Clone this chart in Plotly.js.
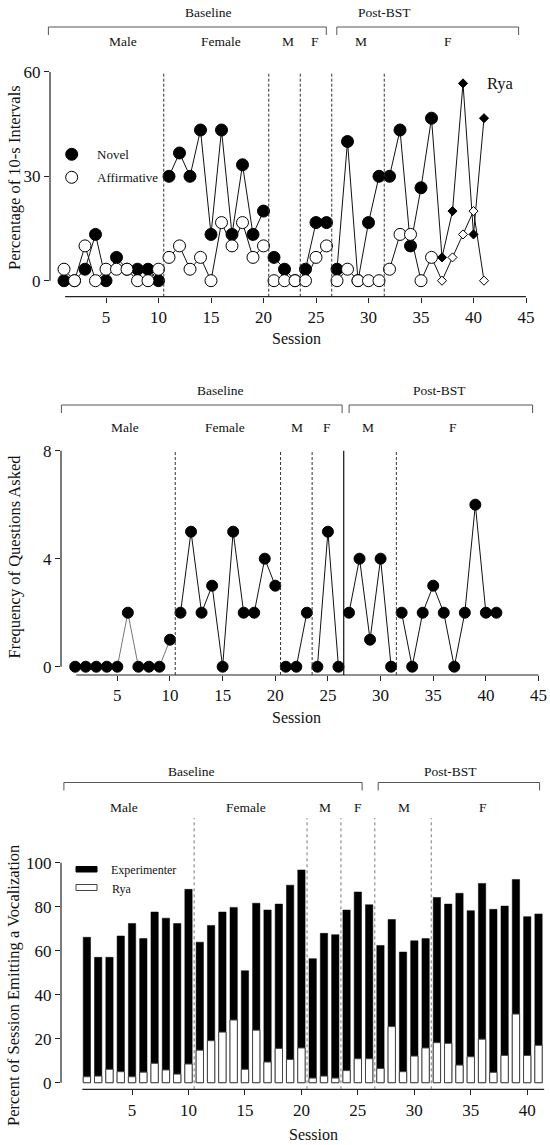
<!DOCTYPE html>
<html>
<head>
<meta charset="utf-8">
<script src="https://cdn.plot.ly/plotly-3.0.1.min.js"></script>
<style>html,body{margin:0;padding:0;background:#fff;}#chart{width:550px;height:1145px;}</style>
</head>
<body>
<div id="chart"></div>
<script>
// ---------- DATA ----------
const sessions = [1,2,3,4,5,6,7,8,9,10,11,12,13,14,15,16,17,18,19,20,21,22,23,24,25,26,27,28,29,30,31,32,33,34,35,36,37,38,39,40,41];
const phaseBoundaries = [10.5, 20.5, 23.5, 26.5, 31.5];

// Panel 1: percentage of 10-s intervals
const novel = [0,0,3.3,13.3,0,6.7,3.3,3.3,3.3,0, 30,36.7,30,43.3,13.3,43.3,13.3,33.3,13.3,20, 6.7,3.3,0, 3.3,16.7,16.7, 3.3,40,0,16.7,30, 30,43.3,10,26.7,46.7,6.7,20,56.7,13.3,46.7];
const affirmative = [3.3,0,10,0,3.3,3.3,3.3,0,0,3.3, 6.7,10,3.3,6.7,0,16.7,10,16.7,6.7,10, 0,0,0, 0,6.7,10, 0,3.3,0,0,0, 3.3,13.3,13.3,0,6.7,0,6.7,13.3,20,0];
const diamondFrom = 37;

// Panel 2: frequency of questions asked
const questions = [0,0,0,0,0,2,0,0,0,1, 2,5,2,3,0,5,2,2,4,3, 0,0,2, 0,5,0, 2,4,1,4,0, 2,0,2,3,2,0,2,6,2,2];

// Panel 3: percent of session emitting a vocalization
const experimenter = [66.1,57,57,66.7,72.4,65.5,77.6,74.8,72.4,87.9, 63.9,71.5,77.6,79.7,50.9,81.6,78.5,81.2,89.8,96.7, 56.4,67.9,67.3, 78.5,86.7,80.9, 62.4,74.2,59.4,64.5,65.5, 84.2,81.2,86.1,78.2,90.6,78.8,80.3,92.4,75.5,76.7];
const rya = [2.7,3.0,6.1,5.0,2.7,4.8,8.8,5.8,3.9,8.5, 14.8,19.1,23.0,28.5,6.1,23.9,9.4,15.6,10.6,15.8, 2.1,3.0,2.1, 5.5,10.9,10.9, 6.5,25.5,5.0,12.1,15.8, 18.2,17.9,8.0,11.8,19.8,4.7,12.4,31.2,12.4,17.0];

// Tick labels
const xTicks1 = [5,10,15,20,25,30,35,40,45];
const yTicks1 = [0,30,60];
const xTicks2 = [5,10,15,20,25,30,35,40,45];
const yTicks2 = [0,4,8];
const xTicks3 = [5,10,15,20,25,30,35,40];
const yTicks3 = [0,20,40,60,80,100];

// Text labels
const phaseLabels = ['Baseline','Post-BST'];
const condLabels = ['Male','Female','M','F','M','F'];
const yTitles = ['Percentage of 10-s Intervals','Frequency of Questions Asked','Percent of Session Emitting a Vocalization'];
const xTitle = 'Session';
const seriesNames1 = ['Novel','Affirmative'];
const seriesNames3 = ['Experimenter','Rya'];
const participant = 'Rya';

// ---------- LAYOUT HELPERS ----------
const W = 550, H = 1145;
const PX = x => x / W;
const PY = y => 1 - y / H;
const SERIF = 'Liberation Serif';

function withGaps(xs, ys) {
  const ox = [], oy = [];
  for (let i = 0; i < xs.length; i++) {
    if (i > 0 && phaseBoundaries.some(b => xs[i-1] < b && xs[i] > b)) { ox.push(null); oy.push(null); }
    ox.push(xs[i]); oy.push(ys[i]);
  }
  return [ox, oy];
}

const traces = [];
// ----- Panel 1 -----
const symbols1 = sessions.map(s => s >= diamondFrom ? 'diamond' : 'circle');
const sizes1 = sessions.map(s => s >= diamondFrom ? 7 : 12);
let g = withGaps(sessions, novel);
traces.push({x: g[0], y: g[1], xaxis:'x', yaxis:'y', mode:'lines', line:{color:'#111', width:1}, connectgaps:false, hoverinfo:'skip'});
traces.push({x: sessions, y: novel, xaxis:'x', yaxis:'y', mode:'markers', name: seriesNames1[0],
  marker:{symbol: symbols1, size: sizes1, opacity:1, color:'#000', line:{color:'#000', width:1}}});
g = withGaps(sessions, affirmative);
traces.push({x: g[0], y: g[1], xaxis:'x', yaxis:'y', mode:'lines', line:{color:'#111', width:1}, connectgaps:false, hoverinfo:'skip'});
traces.push({x: sessions, y: affirmative, xaxis:'x', yaxis:'y', mode:'markers', name: seriesNames1[1],
  marker:{symbol: symbols1, size: sizes1, opacity:1, color:'#fff', line:{color:'#000', width:1}}});

// ----- Panel 2 -----
const firstSegX = sessions.filter(s => s < phaseBoundaries[0]);
const firstSegY = questions.slice(0, firstSegX.length);
const restX = sessions.slice(firstSegX.length);
const restY = questions.slice(firstSegX.length);
traces.push({x: firstSegX, y: firstSegY, xaxis:'x2', yaxis:'y2', mode:'lines', line:{color:'#777', width:1}, hoverinfo:'skip'});
g = withGaps(restX, restY);
traces.push({x: g[0], y: g[1], xaxis:'x2', yaxis:'y2', mode:'lines', line:{color:'#111', width:1}, connectgaps:false, hoverinfo:'skip'});
traces.push({x: sessions, y: questions, xaxis:'x2', yaxis:'y2', mode:'markers',
  marker:{symbol:'circle', size:11, opacity:1, color:'#000', line:{color:'#000', width:1}}});

// ----- Panel 3 -----
traces.push({type:'bar', x: sessions, y: experimenter, xaxis:'x3', yaxis:'y3', name: seriesNames3[0], width:0.65,
  marker:{color:'#000', line:{color:'#000', width:0.5}}});
traces.push({type:'bar', x: sessions, y: rya, xaxis:'x3', yaxis:'y3', name: seriesNames3[1], width:0.65,
  marker:{color:'#fff', line:{color:'#444', width:1}}});

// ----- Axes -----
const tickFont = {family: SERIF, size: 17, color:'#111'};
function xAxis(dom, range, ticks, anchor) {
  return {domain:[PX(dom[0]), PX(dom[1])], range: range, anchor: anchor, showline:false, zeroline:false, showgrid:false,
    ticks:'outside', ticklen:5, tickwidth:1, tickcolor:'#222', tickvals: ticks, ticktext: ticks.map(String), tickfont: tickFont, fixedrange:true};
}
function yAxis(dom, range, ticks, anchor) {
  return {domain:[PY(dom[0]), PY(dom[1])], range: range, anchor: anchor, showline:false, zeroline:false, showgrid:false,
    ticks:'outside', ticklen:5, tickwidth:1, tickcolor:'#222', tickvals: ticks, ticktext: ticks.map(String), tickfont: tickFont, fixedrange:true};
}

const shapes = [];
const annotations = [];
const axisLine = {color:'#222', width:1.2};

function panelFrame(xa, ya, xLine, yLine, yLow, yTop, dash, solidAt, lineColor, lw) {
  shapes.push({type:'line', xref: xa, yref: ya + ' domain', x0: xLine[0], x1: xLine[1], y0: 0, y1: 0, line: axisLine});
  shapes.push({type:'line', xref: xa + ' domain', yref: ya, x0: 0, x1: 0, y0: yLine[0], y1: yLine[1], line: axisLine});
  phaseBoundaries.forEach(b => {
    const solid = solidAt !== null && b === solidAt;
    shapes.push({type:'line', xref: xa, yref: ya, x0: b, x1: b, y0: yLow, y1: yTop,
      line:{color: solid ? '#111' : lineColor, width: solid ? 1.2 : lw, dash: solid ? 'solid' : dash}});
  });
}
panelFrame('x', 'y', [1.1, 45], [0, 60], -4.6, 60, '3px,2px', null, '#333', 1);
panelFrame('x2', 'y2', [1.1, 45], [0, 8], -0.307, 8, '3px,2px', 26.5, '#333', 1);
panelFrame('x3', 'y3', [0.6, 41.5], [0, 100], -3.0, 120.3, 'dot', null, '#777', 1);

// Brackets & labels (pixel positions)
const bracketColor = '#555';
function bracket(x0, x1, y, depth) {
  shapes.push({type:'path', xref:'paper', yref:'paper',
    path:`M ${PX(x0)} ${PY(y+depth)} L ${PX(x0)} ${PY(y)} L ${PX(x1)} ${PY(y)} L ${PX(x1)} ${PY(y+depth)}`,
    line:{color: bracketColor, width:1}});
}
function label(text, x, y, size, anchor) {
  annotations.push({text: text, xref:'paper', yref:'paper', x: PX(x), y: PY(y), showarrow:false,
    xanchor: anchor || 'center', yanchor:'middle', font:{family: SERIF, size: size, color:'#111'}});
}
const headers = [
  {by:12, bk:27, sub:42, b:[48.4, 326.3], p:[336.8, 518.6], bl:208.8, pl:384.2, subs:[122.8,221,287.7,315,361.4,448.4]},
  {by:391, bk:405, sub:427.5, b:[61.4, 342.1], p:[349.1, 532.6], bl:220.4, pl:439.6, subs:[125.3,224.6,296.5,327,368.4,453.3]},
  {by:771, bk:782.5, sub:807, b:[63.9, 362.1], p:[378.2, 539.6], bl:191.2, pl:450.2, subs:[123.5,245.6,324.6,357.9,404.2,482.5]}
];
headers.forEach(h => {
  bracket(h.b[0], h.b[1], h.bk, 8);
  bracket(h.p[0], h.p[1], h.bk, 8);
  label(phaseLabels[0], h.bl, h.by, 13.5);
  label(phaseLabels[1], h.pl, h.by, 13.5);
  h.subs.forEach((x, i) => label(condLabels[i], x, h.sub, 13.5));
});

// Axis titles
const yTitlePos = [[14, 178], [13.5, 557], [13, 986]];
yTitles.forEach((t, i) => {
  annotations.push({text: t, xref:'paper', yref:'paper', x: PX(yTitlePos[i][0]), y: PY(yTitlePos[i][1]), textangle:-90,
    showarrow:false, xanchor:'center', yanchor:'middle', font:{family: SERIF, size:16.5, color:'#111'}});
});
[[296, 339], [296, 717], [313, 1134]].forEach(p => label(xTitle, p[0], p[1], 16));

// Participant label
label(participant, 500, 84, 16.5);

// Legend panel 1
shapes.push({type:'circle', xref:'paper', yref:'paper', x0: PX(65.7), x1: PX(77.7), y0: PY(160.3), y1: PY(148.3), fillcolor:'#000', line:{color:'#000', width:1}});
shapes.push({type:'circle', xref:'paper', yref:'paper', x0: PX(65.7), x1: PX(77.7), y0: PY(183.3), y1: PY(171.3), fillcolor:'#fff', line:{color:'#000', width:1}});
label(seriesNames1[0], 95, 154.3, 13, 'left');
label(seriesNames1[1], 95, 177.3, 13, 'left');

// Legend panel 3
shapes.push({type:'rect', xref:'paper', yref:'paper', x0: PX(76), x1: PX(97), y0: PY(872), y1: PY(866.5), fillcolor:'#000', line:{color:'#000', width:1}});
shapes.push({type:'rect', xref:'paper', yref:'paper', x0: PX(76), x1: PX(97), y0: PY(890.5), y1: PY(884.5), fillcolor:'#fff', line:{color:'#444', width:1}});
label(seriesNames3[0], 109, 869.5, 12, 'left');
label(seriesNames3[1], 110, 888.5, 12, 'left');

const layout = {
  width: W, height: H,
  margin: {l:0, r:0, t:0, b:0},
  paper_bgcolor:'#fff', plot_bgcolor:'rgba(0,0,0,0)',
  showlegend: false,
  barmode: 'overlay',
  font: {family: SERIF, color:'#111'},
  xaxis:  xAxis([50, 530], [-0.333, 45.38], xTicks1, 'y'),
  yaxis:  yAxis([296.7, 68], [-4.6, 61.12], yTicks1, 'x'),
  xaxis2: xAxis([61, 540], [-0.35, 45.14], xTicks2, 'y2'),
  yaxis2: yAxis([675, 445], [-0.307, 8.21], yTicks2, 'x2'),
  xaxis3: xAxis([61, 548], [-1.293, 41.84], xTicks3, 'y3'),
  yaxis3: yAxis([1089.3, 815], [-3.0, 121.7], yTicks3, 'x3'),
  shapes: shapes,
  annotations: annotations
};

Plotly.newPlot('chart', traces, layout, {staticPlot: true, displayModeBar: false});
</script>
</body>
</html>
